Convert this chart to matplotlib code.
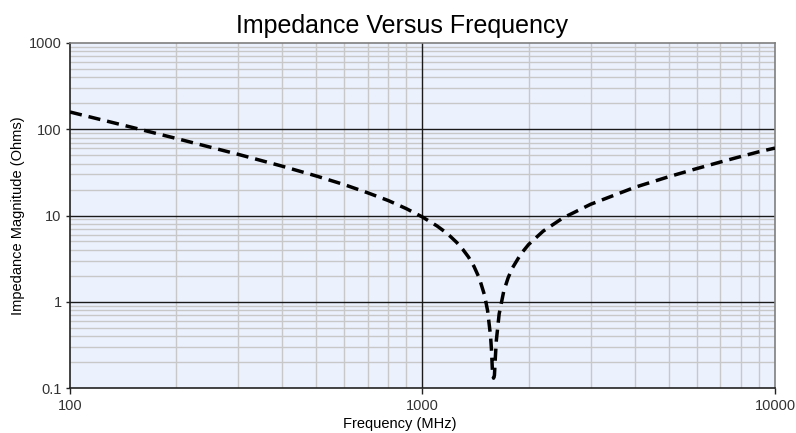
import numpy as np
import matplotlib
matplotlib.use("Agg")
import matplotlib.pyplot as plt
from matplotlib.ticker import LogLocator, FixedLocator, NullFormatter

# Impedance magnitude (MHz, Ohms)
freq_mhz = [100, 150, 200, 300, 400, 500, 600, 700, 800, 900, 1000,
            1100, 1150, 1200, 1250, 1300, 1350, 1400, 1450, 1500, 1530,
            1560, 1570, 1580, 1591, 1600, 1610, 1620, 1650, 1700, 1750,
            1800, 1900, 2000, 2200, 2500, 3000, 4000, 5000, 6000, 7000,
            8000, 9000, 10000]
impedance = [158.5, 105.2, 78.3, 51.2, 37.3, 28.7, 22.8, 18.3, 14.9, 12.0, 9.6,
             7.56, 6.61, 5.72, 4.88, 4.07, 3.31, 2.57, 1.87, 1.19, 0.79,
             0.40, 0.27, 0.15, 0.13, 0.14, 0.23, 0.355, 0.72, 1.32, 1.90,
             2.47, 3.56, 4.61, 6.59, 9.34, 13.5, 21.2, 28.2, 35.0, 41.7,
             48.3, 54.8, 60.5]

x_ticks = [100, 1000, 10000]
x_tick_labels = ["100", "1000", "10000"]
y_ticks = [0.1, 1, 10, 100, 1000]
y_tick_labels = ["0.1", "1", "10", "100", "1000"]

plt.rcParams["font.family"] = ["Liberation Sans", "DejaVu Sans"]

fig = plt.figure(figsize=(7.96, 4.33), dpi=100)
ax = fig.add_axes([0.0879, 0.1039, 0.8857, 0.7968])
ax.set_facecolor("#EBF1FD")

ax.set_xscale("log")
ax.set_yscale("log")
ax.set_xlim(100, 10000)
ax.set_ylim(0.1, 1000)

ax.xaxis.set_major_locator(FixedLocator(x_ticks))
ax.set_xticklabels(x_tick_labels)
ax.yaxis.set_major_locator(FixedLocator(y_ticks))
ax.set_yticklabels(y_tick_labels)
ax.xaxis.set_minor_locator(LogLocator(base=10, subs=np.arange(2, 10)))
ax.yaxis.set_minor_locator(LogLocator(base=10, subs=np.arange(2, 10)))
ax.xaxis.set_minor_formatter(NullFormatter())
ax.yaxis.set_minor_formatter(NullFormatter())

# minor grid from the axis, major grid drawn on top so it stays solid
ax.grid(which="minor", color="#C8C8C8", lw=1.0)
ax.set_axisbelow(True)
for xv in x_ticks[1:-1]:
    ax.axvline(xv, color="#1a1a1a", lw=1.0, zorder=1)
for yv in y_ticks[1:-1]:
    ax.axhline(yv, color="#1a1a1a", lw=1.0, zorder=1)

ax.plot(freq_mhz, impedance, color="black", lw=2.5, ls=(0, (3.5, 2.0)),
        zorder=3)

ax.tick_params(axis="x", which="major", length=4, width=1, color="#222222",
               labelsize=10.5, labelcolor="#333333", pad=4)
ax.tick_params(axis="y", which="major", length=3, width=1, color="#222222",
               labelsize=10.5, labelcolor="#333333", pad=3)
ax.tick_params(which="minor", length=0)

for s in ("left", "bottom"):
    ax.spines[s].set_color("#222222")
    ax.spines[s].set_linewidth(1.2)
for s in ("top", "right"):
    ax.spines[s].set_color("#7f7f7f")
    ax.spines[s].set_linewidth(1.2)

# title and x label sit centred on the figure rather than the plot area
ax.set_title("Impedance Versus Frequency", fontsize=18, pad=7, x=0.471)
ax.set_xlabel("Frequency (MHz)", fontsize=10.5)
ax.xaxis.set_label_coords(0.468, -0.085)
ax.set_ylabel("Impedance Magnitude (Ohms)", fontsize=10.5, labelpad=3)

fig.savefig("out.png", dpi=100)
